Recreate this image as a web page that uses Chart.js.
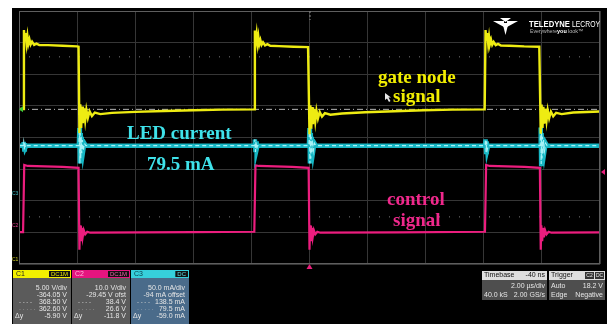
<!DOCTYPE html>
<html>
<head>
<meta charset="utf-8">
<script src="https://cdn.jsdelivr.net/npm/chart.js@4/dist/chart.umd.min.js"></script>
<style>
  html, body { margin: 0; padding: 0; background: #fff; overflow: hidden; }
  canvas { display: block; }
</style>
</head>
<body>
<canvas id="scope" width="607" height="324"></canvas>
<script>
// time in µs (2 µs/div, trigger at 0), amplitude in screen divisions (0 = centre line)
const gateTime = [
  -10.00, -9.86,
  -9.83, -9.80, -9.77, -9.74, -9.71, -9.68, -9.64, -9.60, -9.55, -9.48, -9.40, -9.30, -9.00, -8.50, -8.00, -7.95,
  -7.92, -7.89, -7.86, -7.83, -7.80, -7.76, -7.72, -7.68, -7.63, -7.57, -7.49, -7.39, -7.20, -6.80, -6.00, -5.00, -4.00, -3.00, -1.91,
  -1.88, -1.85, -1.82, -1.79, -1.76, -1.73, -1.69, -1.65, -1.60, -1.53, -1.45, -1.35, -1.05, -0.55, -0.05,
  0.00, 0.03, 0.06, 0.09, 0.12, 0.16, 0.20, 0.24, 0.29, 0.35, 0.43, 0.53, 0.72, 1.12, 1.92, 2.92, 3.92, 4.92, 6.03,
  6.06, 6.09, 6.12, 6.15, 6.18, 6.21, 6.25, 6.29, 6.34, 6.41, 6.49, 6.59, 6.89, 7.39, 7.91,
  7.96, 7.99, 8.02, 8.05, 8.08, 8.12, 8.16, 8.20, 8.25, 8.31, 8.39, 8.49, 8.68, 9.08, 10.00
];
const gateLevel = [
  0.90, 0.90,
  3.40, 3.05, 3.30, 2.98, 3.20, 2.95, 3.10, 2.94, 3.03, 2.93, 2.97, 2.92, 2.92, 2.90, 2.88, 2.87,
  0.14, 1.05, 0.30, 0.98, 0.45, 0.92, 0.55, 0.87, 0.62, 0.83, 0.68, 0.79, 0.74, 0.78, 0.81, 0.84, 0.86, 0.88, 0.89,
  3.38, 3.05, 3.28, 2.97, 3.18, 2.94, 3.08, 2.93, 3.01, 2.91, 2.95, 2.90, 2.89, 2.87, 2.86,
  0.10, 1.02, 0.28, 0.96, 0.42, 0.90, 0.52, 0.85, 0.60, 0.81, 0.66, 0.77, 0.72, 0.76, 0.80, 0.83, 0.86, 0.88, 0.89,
  3.40, 3.06, 3.30, 2.98, 3.19, 2.95, 3.09, 2.93, 3.02, 2.92, 2.96, 2.91, 2.90, 2.88, 2.87,
  0.12, 1.04, 0.30, 0.97, 0.44, 0.91, 0.54, 0.86, 0.61, 0.82, 0.67, 0.78, 0.74, 0.79, 0.82
];

const ledTime = [
  -9.97, -9.86, -9.84, -9.82, -9.80, -9.78, -9.75,
  -7.94, -7.92, -7.905, -7.89, -7.875, -7.86, -7.84, -7.82, -7.79, -7.75, -7.70,
  -1.90, -1.88, -1.86, -1.84, -1.82, -1.79,
  -0.02, 0.00, 0.015, 0.03, 0.045, 0.06, 0.08, 0.10, 0.13, 0.17, 0.22,
  6.04, 6.06, 6.08, 6.10, 6.12, 6.15,
  7.94, 7.96, 7.975, 7.99, 8.005, 8.02, 8.04, 8.06, 8.09, 8.13, 8.18,
  10.00
];
const ledLevel = [
  -0.26, -0.26, -0.14, -0.38, -0.18, -0.32, -0.26,
  -0.26, 0.30, -0.82, 0.14, -0.66, 0.02, -0.50, -0.08, -0.42, -0.18, -0.26,
  -0.26, -0.06, -0.46, -0.12, -0.38, -0.26,
  -0.26, 0.30, -0.82, 0.14, -0.66, 0.02, -0.50, -0.08, -0.42, -0.18, -0.26,
  -0.26, -0.06, -0.46, -0.12, -0.38, -0.26,
  -0.26, 0.32, -0.84, 0.14, -0.66, 0.02, -0.50, -0.08, -0.42, -0.18, -0.26,
  -0.26
];

const ctrlTime = [
  -10.00, -9.86, -9.82, -9.70, -8.50, -7.95,
  -7.92, -7.90, -7.87, -7.84, -7.81, -7.77, -7.72, -7.65, -7.55,
  -4.00, -1.90, -1.86, -1.74, -0.60, -0.03,
  0.00, 0.02, 0.05, 0.08, 0.11, 0.15, 0.20, 0.27, 0.37,
  3.00, 6.04, 6.08, 6.20, 7.40, 7.93,
  7.96, 7.98, 8.01, 8.04, 8.07, 8.11, 8.16, 8.23, 8.33,
  10.00
];
const ctrlLevel = [
  -2.99, -2.99, -0.87, -0.90, -0.93, -0.96,
  -3.55, -2.78, -3.28, -2.86, -3.16, -2.93, -3.06, -2.98, -3.01,
  -2.99, -2.98, -0.88, -0.90, -0.93, -0.96,
  -3.55, -2.78, -3.28, -2.86, -3.16, -2.93, -3.06, -2.98, -3.01,
  -3.00, -2.98, -0.87, -0.90, -0.93, -0.96,
  -3.55, -2.78, -3.28, -2.86, -3.16, -2.93, -3.06, -2.98, -3.01,
  -3.00
];

const cursorLevels = [2.55, -2.51];
const gateRefLevel = 0.89;
const screenSpan = [-10, 10];

const gateLabel = ['gate node', 'signal'];
const ledLabel = ['LED current', '79.5 mA'];
const ctrlLabel = ['control', 'signal'];

const c1Rows = ['5.00 V/div', '-364.05 V', '368.50 V', '362.60 V', '-5.90 V'];
const c2Rows = ['10.0 V/div', '-29.45 V ofst', '38.4 V', '26.6 V', '-11.8 V'];
const c3Rows = ['50.0 mA/div', '-94 mA offset', '138.5 mA', '79.5 mA', '-59.0 mA'];
const timebaseRows = ['-40 ns', '2.00 µs/div', '40.0 kS', '2.00 GS/s'];
const triggerRows = ['Auto', '18.2 V', 'Edge', 'Negative'];

const pts = (xs, ys) => xs.map((x, i) => ({ x: x, y: ys[i] }));
const flat = v => screenSpan.map(x => ({ x: x, y: v }));

function text(ctx, s, x, y, color, font, align) {
    ctx.font = font;
    ctx.fillStyle = color;
    ctx.textAlign = align || 'left';
    ctx.fillText(s, x, y);
}

function channelBox(ctx, x, w, name, headColor, nameColor, badge, badgeColor, bodyColor, rows) {
    ctx.fillStyle = headColor;
    ctx.fillRect(x, 270, w, 8);
    ctx.fillStyle = bodyColor;
    ctx.fillRect(x, 278, w, 46);
    ctx.textBaseline = 'middle';
    text(ctx, name, x + 3, 274.5, nameColor, '7px "Liberation Sans"');
    ctx.font = '6px "Liberation Sans"';
    const bw = ctx.measureText(badge).width + 4;
    ctx.fillStyle = '#111';
    ctx.fillRect(x + w - bw - 1, 271, bw, 6);
    text(ctx, badge, x + w - 3, 274.3, badgeColor, '6px "Liberation Sans"', 'right');
    const ys = [288, 295, 302, 309, 316.5];
    rows.forEach((r, i) => text(ctx, r, x + w - 4, ys[i], '#e6e6e6', '7px "Liberation Sans"', 'right'));
    text(ctx, '- - - -', x + 6, ys[2], '#cfcfcf', '6px "Liberation Sans"');
    text(ctx, '· · · · ·', x + 6, ys[3], '#cfcfcf', '6px "Liberation Sans"');
    text(ctx, 'Δy', x + 2, ys[4], '#e6e6e6', '7px "Liberation Sans"');
}

const scopeDecor = {
    id: 'scopeDecor',
    beforeDraw(chart) {
        const ctx = chart.ctx;
        ctx.save();
        ctx.fillStyle = '#fff';
        ctx.fillRect(0, 0, chart.width, chart.height);
        ctx.fillStyle = '#000';
        ctx.fillRect(12, 8, chart.width - 12, chart.height - 8);
        ctx.restore();
    },
    afterDraw(chart) {
        const ctx = chart.ctx;
        const a = chart.chartArea;
        const xs = chart.scales.x, yS = chart.scales.y;
        ctx.save();

        // screen frame
        ctx.strokeStyle = '#5e5e5e';
        ctx.lineWidth = 1;
        ctx.strokeRect(a.left + 0.5, a.top + 0.5, a.right - a.left - 1, a.bottom - a.top - 1);

        // trigger position / level markers
        const tx = xs.getPixelForValue(0);
        ctx.strokeStyle = '#8a8a8a';
        ctx.setLineDash([2, 2]);
        ctx.beginPath(); ctx.moveTo(tx + 0.5, a.top); ctx.lineTo(tx + 0.5, a.top + 9); ctx.stroke();
        ctx.setLineDash([]);
        ctx.fillStyle = '#e8207c';
        ctx.beginPath(); ctx.moveTo(tx, a.bottom); ctx.lineTo(tx - 3, a.bottom + 5); ctx.lineTo(tx + 3, a.bottom + 5); ctx.fill();
        const ty = yS.getPixelForValue(-1.09);
        ctx.beginPath(); ctx.moveTo(a.right + 1, ty); ctx.lineTo(a.right + 5, ty - 3); ctx.lineTo(a.right + 5, ty + 3); ctx.fill();

        // channel offset markers on the left edge
        const gy = yS.getPixelForValue(gateRefLevel);
        ctx.fillStyle = '#3cc83c';
        ctx.beginPath(); ctx.moveTo(a.left, gy); ctx.lineTo(a.left + 4, gy - 3); ctx.lineTo(a.left + 4, gy + 3); ctx.fill();
        ctx.textBaseline = 'middle';
        text(ctx, 'C3', 12, 194, '#3bb8c0', '5px "Liberation Sans"');
        text(ctx, 'C2', 12, 226, '#e0408c', '5px "Liberation Sans"');
        text(ctx, 'C1', 12, 260, '#c8c820', '5px "Liberation Sans"');

        // annotations
        ctx.textBaseline = 'alphabetic';
        const serif = 'bold 19px "Liberation Serif"';
        text(ctx, gateLabel[0], 378, 83, '#f2ee00', serif);
        text(ctx, gateLabel[1], 393, 102, '#f2ee00', serif);
        text(ctx, ledLabel[0], 127, 139, '#3fe2ea', serif);
        text(ctx, ledLabel[1], 147, 170, '#3fe2ea', serif);
        text(ctx, ctrlLabel[0], 387, 205, '#f0288c', serif);
        text(ctx, ctrlLabel[1], 393, 226, '#f0288c', serif);

        // mouse pointer
        ctx.fillStyle = '#e8e8e8';
        ctx.beginPath();
        ctx.moveTo(385, 93); ctx.lineTo(385, 100); ctx.lineTo(387, 98.5); ctx.lineTo(389, 102);
        ctx.lineTo(390.5, 101); ctx.lineTo(388.5, 97.5); ctx.lineTo(391, 97.5); ctx.closePath(); ctx.fill();

        // logo
        ctx.fillStyle = '#fff';
        ctx.beginPath(); ctx.moveTo(493, 21); ctx.lineTo(504, 21); ctx.lineTo(504, 27); ctx.closePath(); ctx.fill();
        ctx.beginPath(); ctx.moveTo(507, 21); ctx.lineTo(518, 21); ctx.lineTo(507, 27); ctx.closePath(); ctx.fill();
        ctx.beginPath(); ctx.moveTo(502.5, 23); ctx.lineTo(508.5, 23); ctx.lineTo(505.5, 35); ctx.closePath(); ctx.fill();
        ctx.beginPath(); ctx.moveTo(500, 18); ctx.lineTo(511, 18); ctx.lineTo(505.5, 22); ctx.closePath(); ctx.fill();
        ctx.font = 'bold 9px "Liberation Sans"';
        ctx.textAlign = 'left';
        ctx.fillText('TELEDYNE', 529, 27, 41);
        ctx.font = '9px "Liberation Sans"';
        ctx.fillText('LECROY', 572, 27, 28);
        ctx.font = '5.5px "Liberation Sans"';
        ctx.fillStyle = '#b8b8b8';
        ctx.fillText('Everywhere', 530, 33, 27);
        ctx.font = 'bold 5.5px "Liberation Sans"';
        ctx.fillStyle = '#fff';
        ctx.fillText('you', 557, 33, 11);
        ctx.font = '5.5px "Liberation Sans"';
        ctx.fillStyle = '#b8b8b8';
        ctx.fillText('look™', 568, 33, 18);

        // channel descriptor boxes
        channelBox(ctx, 13, 58, 'C1', '#f2f000', '#222', 'DC1M', '#e8e800', '#5b5b5b', c1Rows);
        channelBox(ctx, 72, 58, 'C2', '#e5157f', '#ffb8dc', 'DC1M', '#f060a8', '#5b5b5b', c2Rows);
        channelBox(ctx, 131, 58, 'C3', '#36cfdb', '#0b3d48', 'DC', '#5ee0ea', '#4a6b8a', c3Rows);

        // timebase box
        ctx.textBaseline = 'middle';
        ctx.fillStyle = '#dedede';
        ctx.fillRect(482, 271, 65, 9);
        ctx.fillStyle = '#4e4e4e';
        ctx.fillRect(482, 280, 65, 20);
        text(ctx, 'Timebase', 484, 275.5, '#111', '7px "Liberation Sans"');
        text(ctx, timebaseRows[0], 545, 275.5, '#111', '7px "Liberation Sans"', 'right');
        text(ctx, timebaseRows[1], 545, 286.5, '#e6e6e6', '7px "Liberation Sans"', 'right');
        text(ctx, timebaseRows[2], 484, 295, '#e6e6e6', '7px "Liberation Sans"');
        text(ctx, timebaseRows[3], 545, 295, '#e6e6e6', '7px "Liberation Sans"', 'right');

        // trigger box
        ctx.fillStyle = '#dedede';
        ctx.fillRect(549, 271, 56, 9);
        ctx.fillStyle = '#4e4e4e';
        ctx.fillRect(549, 280, 56, 20);
        text(ctx, 'Trigger', 551, 275.5, '#111', '7px "Liberation Sans"');
        ctx.fillStyle = '#333';
        ctx.fillRect(585, 272, 9, 7);
        ctx.fillRect(595, 272, 9, 7);
        text(ctx, 'C2', 589.5, 275.5, '#eee', '5px "Liberation Sans"', 'center');
        text(ctx, 'DC', 599.5, 275.5, '#eee', '5px "Liberation Sans"', 'center');
        text(ctx, triggerRows[0], 551, 286.5, '#e6e6e6', '7px "Liberation Sans"');
        text(ctx, triggerRows[1], 603, 286.5, '#e6e6e6', '7px "Liberation Sans"', 'right');
        text(ctx, triggerRows[2], 551, 295, '#e6e6e6', '7px "Liberation Sans"');
        text(ctx, triggerRows[3], 603, 295, '#e6e6e6', '7px "Liberation Sans"', 'right');

        ctx.restore();
    }
};

const gridStyle = { color: '#363636', drawTicks: false, lineWidth: 1 };

new Chart(document.getElementById('scope'), {
    type: 'line',
    data: {
        datasets: [
            { label: 'gate node', data: pts(gateTime, gateLevel), borderColor: '#eeec12', borderWidth: 2.4, order: 1 },
            { label: 'LED current', data: pts(ledTime, ledLevel), borderColor: '#17b7c4', borderWidth: 4.5, order: 3 },
            { label: 'LED current core', data: pts(ledTime, ledLevel), borderColor: '#a6f2f6', borderWidth: 1.2, borderDash: [4, 3], order: 2 },
            { label: 'control signal', data: pts(ctrlTime, ctrlLevel), borderColor: '#ec1d7e', borderWidth: 2.2, order: 4 },
            { label: 'gate ref', data: flat(gateRefLevel), borderColor: '#b8b8b8', borderWidth: 1, borderDash: [6, 3, 1, 3], order: 6 },
            { label: 'cursor A', data: flat(cursorLevels[0]), borderColor: '#7a7a7a', borderWidth: 1, borderDash: [1, 9], order: 7 },
            { label: 'cursor B', data: flat(cursorLevels[1]), borderColor: '#7a7a7a', borderWidth: 1, borderDash: [1, 9], order: 7 }
        ]
    },
    options: {
        responsive: false,
        animation: false,
        devicePixelRatio: 1,
        layout: { padding: { left: 19, top: 11, right: 7, bottom: 60 } },
        elements: { point: { radius: 0 }, line: { tension: 0, fill: false } },
        plugins: { legend: { display: false }, tooltip: { enabled: false } },
        scales: {
            x: {
                type: 'linear', min: -10, max: 10,
                ticks: { display: false, stepSize: 2 },
                grid: gridStyle, border: { display: false },
                afterFit(s) { s.height = 0; }
            },
            y: {
                type: 'linear', min: -4, max: 4,
                ticks: { display: false, stepSize: 1 },
                grid: gridStyle, border: { display: false },
                afterFit(s) { s.width = 0; }
            }
        }
    },
    plugins: [scopeDecor]
});
</script>
</body>
</html>
